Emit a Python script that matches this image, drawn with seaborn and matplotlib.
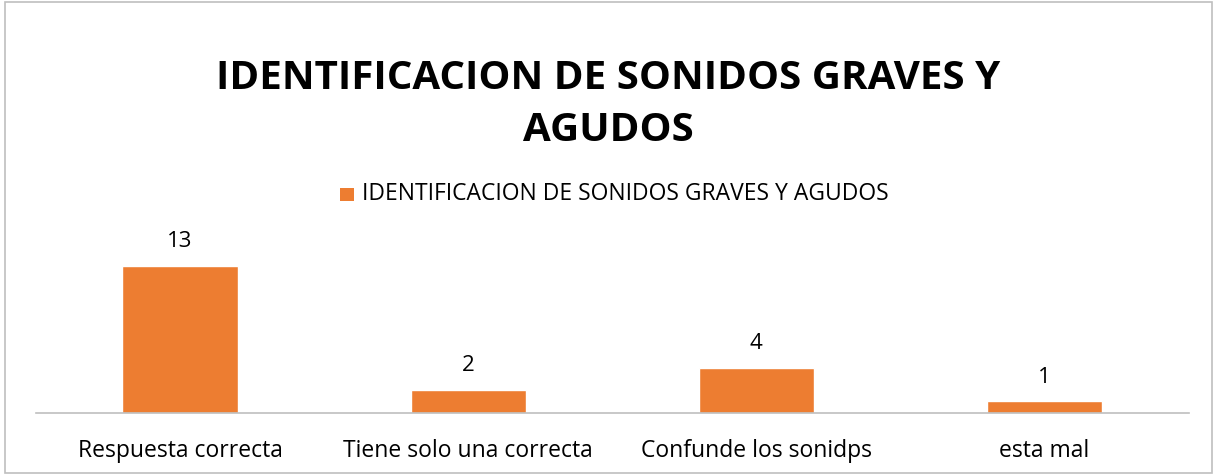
import matplotlib
matplotlib.use("Agg")
import matplotlib.pyplot as plt
import seaborn as sns
import pandas as pd
from matplotlib.patches import Rectangle

categories = ["Respuesta correcta", "Tiene solo una correcta", "Confunde los sonidps", "esta mal"]
values = [13, 2, 4, 1]
series_name = "IDENTIFICACION DE SONIDOS GRAVES Y AGUDOS"
title = "IDENTIFICACION DE SONIDOS GRAVES Y\nAGUDOS"

ORANGE = "#ED7D31"

sns.set_theme(style="white")
plt.rcParams["font.family"] = ["Open Sans", "DejaVu Sans"]

df = pd.DataFrame({"categoria": categories, "valor": values, "serie": series_name})

fig = plt.figure(figsize=(12.17, 4.75), dpi=100)
fig.patches.append(Rectangle((0.004, 0.004), 0.992, 0.992, transform=fig.transFigure,
                             fill=False, edgecolor="#BFBFBF", linewidth=1.2))

ax = fig.add_axes([0.0296, 0.131, 0.947, 0.38])
sns.barplot(data=df, x="categoria", y="valor", hue="serie", palette=[ORANGE],
            width=0.4, saturation=1, ax=ax, legend=False)

ax.set_ylim(0, 180 / 146.7 * 13)
ax.set_xlim(-0.5, len(categories) - 0.5)
for s in ["top", "right", "left"]:
    ax.spines[s].set_visible(False)
ax.spines["bottom"].set_color("#BFBFBF")
ax.spines["bottom"].set_linewidth(1.2)
ax.set_yticks([])
ax.set_xlabel("")
ax.set_ylabel("")
ax.tick_params(axis="x", length=0, pad=19, labelsize=16.5, labelcolor="#000000")

for container in ax.containers:
    ax.bar_label(container, fmt="%d", padding=10, fontsize=16, color="#000000")

fig.text(0.5, 0.78, title, ha="center", va="center", fontsize=29, fontweight="bold",
         color="#000000", linespacing=1.45)

# legend
fig.patches.append(Rectangle((0.2795, 0.576), 0.011, 0.029, transform=fig.transFigure,
                             facecolor=ORANGE, edgecolor="none"))
fig.text(0.2975, 0.592, series_name, ha="left", va="center", fontsize=16.5, color="#000000")

fig.savefig("out.png", dpi=100)
